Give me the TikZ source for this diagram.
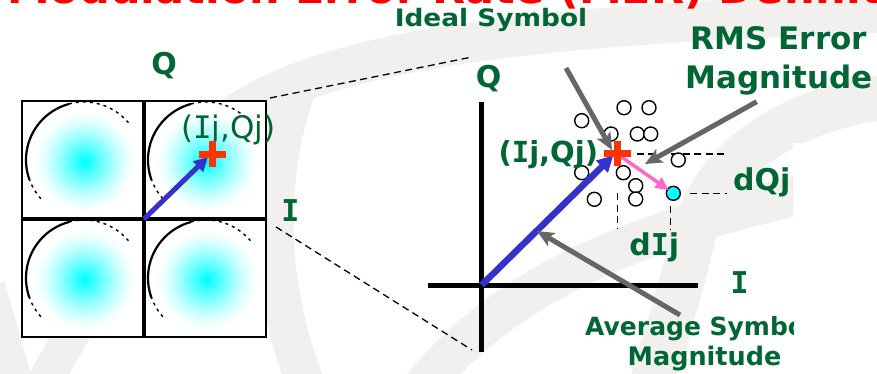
\documentclass[tikz,border=0pt]{standalone}
\usepackage{fontspec}
\usepackage{graphicx}
\setmainfont{DejaVu Sans}
\newfontfamily\monoI{DejaVu Sans Mono}
\usetikzlibrary{arrows.meta}
\definecolor{tgreen}{RGB}{0,102,51}
\definecolor{tred}{RGB}{255,0,0}
\definecolor{xred}{RGB}{255,51,0}
\definecolor{ablue}{RGB}{51,51,204}
\definecolor{apink}{RGB}{255,102,204}
\definecolor{agray}{RGB}{102,102,102}
\definecolor{wm}{RGB}{241,240,239}
\definecolor{aqua}{RGB}{0,255,255}
\definecolor{pwhite}{RGB}{255,255,255}
\begin{document}
\begin{tikzpicture}[x=1pt,y=-1pt,
  glab/.style={text=tgreen, inner sep=0pt, anchor=base, font=\bfseries\fontsize{30}{30}\selectfont},
  guide/.style={line width=1.3pt, dash pattern=on 7pt off 4.5pt},
  dotc/.style={circle, draw, fill=white, line width=1.4pt, minimum size=14pt, inner sep=0pt},
  garrow/.style={agray, line width=5pt, -{Stealth[length=17pt,width=15pt,inset=4pt]}},
  crossbar/.style={xred, line width=7pt},
  band/.style={wm, line width=40pt}]
\clip (0,0) rectangle (877,374);
\fill[white] (0,0) rectangle (877,374);
% watermark
\draw[band] (235,115) .. controls (330,50) and (520,25) .. (900,12);
\draw[band, line width=45pt] (900,95) .. controls (800,105) and (720,150) .. (695,230) .. controls (680,290) .. (650,390);
\draw[band] (420,390) .. controls (500,290) and (620,235) .. (800,195);
\draw[band, line width=38pt] (300,80) .. controls (262,180) and (268,290) .. (308,390);
\draw[band, line width=30pt] (-10,285) -- (20,390);
\draw[band, line width=35pt] (40,390) -- (80,320);
\fill[white] (793,143) rectangle (877,374);
% title
\node[anchor=base west, inner sep=0pt, text=tred, font=\bfseries\fontsize{43}{43}\selectfont] (title) at (7,3.5) {Modulation Error Rate (MER) Definition};
% left constellation grid
\fill[white] (22,101) rectangle (266,337);
\foreach \cx/\cy in {84/160,206/160,84/278,206/278}{
  \begin{scope}
    \clip (\cx-61,\cy-59) rectangle (\cx+61,\cy+59);
    \foreach \i in {0,...,24}{
      \pgfmathsetmacro\rr{52*(1-\i/25)}
      \pgfmathtruncatemacro\pc{100*(\i/24)^1.35}
      \fill[aqua!\pc!pwhite] (\cx+1,\cy+2) circle[radius=\rr];
    }
    \draw[line width=2.2pt] (\cx,\cy) ++(-200:58) arc[start angle=-200, end angle=-105, radius=58];
    \draw[line width=1.4pt, dash pattern=on 3pt off 4pt] (\cx,\cy) ++(-105:58) arc[start angle=-105, end angle=-40, radius=58];
    \draw[line width=1.4pt, dash pattern=on 3pt off 4pt] (\cx,\cy) ++(-222:58) arc[start angle=-222, end angle=-200, radius=58];
  \end{scope}
}
\draw[line width=2.8pt] (22,101) rectangle (266,337);
\draw[line width=3.2pt] (144,101) -- (144,337);
\draw[line width=3.2pt] (22,219) -- (266,219);
\node[glab] (lQ) at (164,75) {Q};
\node[glab] (lI) at (290.5,221.7) {\monoI I};
\node[text=tgreen, inner sep=0pt, anchor=base, font=\fontsize{31}{31}\selectfont] (lij) at (228.3,138.5) {({\monoI I}j,Qj)};
\coordinate (gO) at (144,219);
\coordinate (gT) at (208,157);
\coordinate (gX) at (212.3,154.3);
\draw[ablue, line width=5pt, -{Triangle[length=14pt,width=14pt]}] (gO) -- (gT);
\draw[crossbar] ([xshift=-13.3pt]gX) -- ([xshift=13.3pt]gX);
\draw[crossbar] ([yshift=-13.2pt]gX) -- ([yshift=13.2pt]gX);
% zoom lines
\coordinate (gTR) at (270,98);
\coordinate (zT) at (472,57);
\coordinate (gBR) at (276,227);
\coordinate (zB) at (472,350);
\draw[guide] (gTR) -- (zT);
\draw[guide] (gBR) -- (zB);
% right panel axes
\coordinate (Qtop) at (481.7,101.7);
\coordinate (Qbot) at (481.7,352);
\coordinate (Il) at (428,285);
\coordinate (Ir) at (698,285);
\draw[line width=5pt] (Qtop) -- (Qbot);
\draw[line width=5pt] (Il) -- (Ir);
\coordinate (O) at (481.7,285);
\coordinate (X) at (617.3,154);
\coordinate (bT) at (613.3,155.5);
% dashed guides
\coordinate (h1a) at (636.7,154); \coordinate (h1b) at (727.7,154);
\coordinate (h2a) at (690,193.3); \coordinate (h2b) at (726.7,193.3);
\coordinate (v1a) at (617.3,193.3); \coordinate (v1b) at (617.3,229.3);
\coordinate (v2a) at (670.7,206); \coordinate (v2b) at (670.7,229.3);
\draw[guide] (h1a) -- (h1b);
\draw[guide] (h2a) -- (h2b);
\draw[guide] (v1a) -- (v1b);
\draw[guide] (v2a) -- (v2b);
% received symbols
\foreach \p [count=\k] in {(624,107.7),(649,107.7),(581.7,120.7),(611,134),(637.3,134),(650.7,134),(678.3,160),(581.7,172.7),(623.3,172.7),(635.7,185.7),(635.7,199),(594.3,199.3)}
  \node[dotc] (c\k) at \p {};
\node[dotc, fill=aqua] (E) at (673.3,193.3) {};
% labels
\node[glab] (rQ) at (488.7,88) {Q};
\node[glab, font=\bfseries\fontsize{29}{29}\selectfont] (rij) at (548.3,163) {({\monoI I}j,Qj)};
\node[glab] (dQ) at (761.7,190) {dQj};
\node[glab] (dI) at (654.3,255) {d{\monoI I}j};
\node[glab] (rI) at (739.7,293.3) {\monoI I};
\node[glab, font=\bfseries\fontsize{24}{24}\selectfont] (ideal) at (491,27) {\scalebox{1.1}[1]{Ideal Symbol}};
\node[glab, font=\bfseries\fontsize{31}{31}\selectfont] (rms1) at (779,50) {RMS Error};
\node[glab, font=\bfseries\fontsize{31}{31}\selectfont] (rms2) at (779,88.3) {Magnitude};
\begin{scope}
  \clip (0,0) rectangle (793,374);
  \node[glab, anchor=base west, font=\bfseries\fontsize{25}{25}\selectfont] (avg1) at (585,335) {Average Symbol};
\end{scope}
\node[glab, font=\bfseries\fontsize{25.5}{25.5}\selectfont] (avg2) at (704.5,365) {Magnitude};
% vectors
\draw[ablue, line width=6.5pt, -{Triangle[length=16pt,width=16pt]}] (O) -- (bT);
\draw[apink, line width=3.5pt, -{Triangle[length=13pt,width=12pt]}, shorten >=-2pt] (X) -- (E);
% pointer arrows
\coordinate (gi1) at (566,68); \coordinate (gi2) at (612,150);
\coordinate (gr1) at (756.7,101.7); \coordinate (gr2) at (645,164);
\coordinate (ga1) at (680,315); \coordinate (ga2) at (537,231);
\draw[garrow] (gi1) -- (gi2);
\draw[garrow] (gr1) -- (gr2);
\draw[garrow] (ga1) -- (ga2);
% ideal symbol cross
\draw[crossbar] ([xshift=-13.8pt]X) -- ([xshift=13.8pt]X);
\draw[crossbar] ([yshift=-12.5pt]X) -- ([yshift=12.5pt]X);
\end{tikzpicture}
\end{document}
